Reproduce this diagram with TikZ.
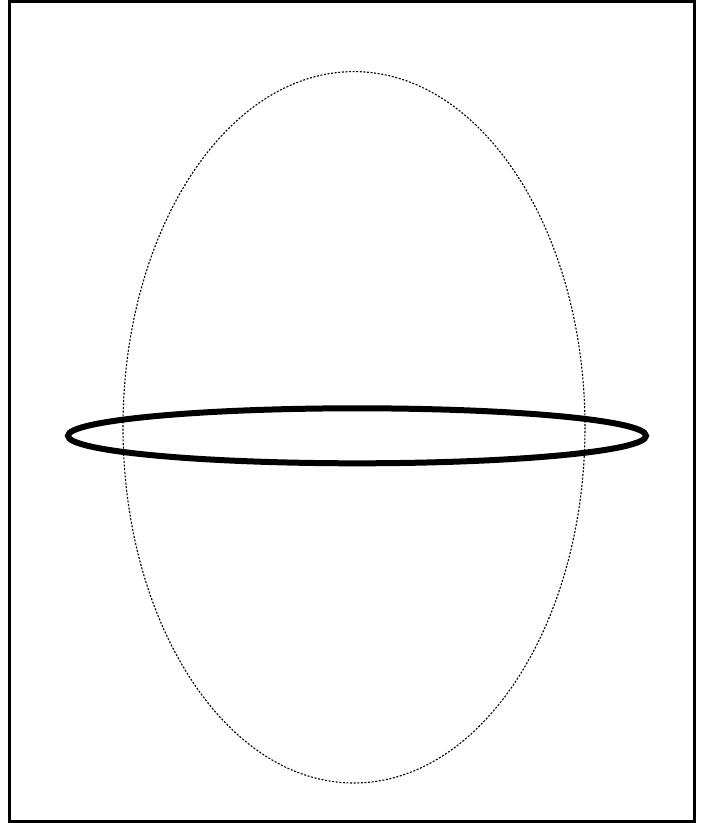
\documentclass[tikz,border=0pt]{standalone}
\begin{document}
\begin{tikzpicture}[x=1pt,y=-1pt,
  frame/.style={draw=black,line width=3pt},
  guide/.style={draw=black,line width=1.1pt,dash pattern=on 2pt off 1.6pt},
  ring/.style={draw=black,line width=6pt}]
\useasboundingbox (0,0) rectangle (712,823);
\draw[frame] (9.5,1.5) rectangle (694.5,821.5);
\coordinate (c1) at (354,427.3);
\coordinate (c2) at (357,435.8);
\draw[guide] (c1) ellipse [x radius=231, y radius=355.7];
\draw[ring] (c2) ellipse [x radius=289, y radius=27.5];
\end{tikzpicture}
\end{document}
